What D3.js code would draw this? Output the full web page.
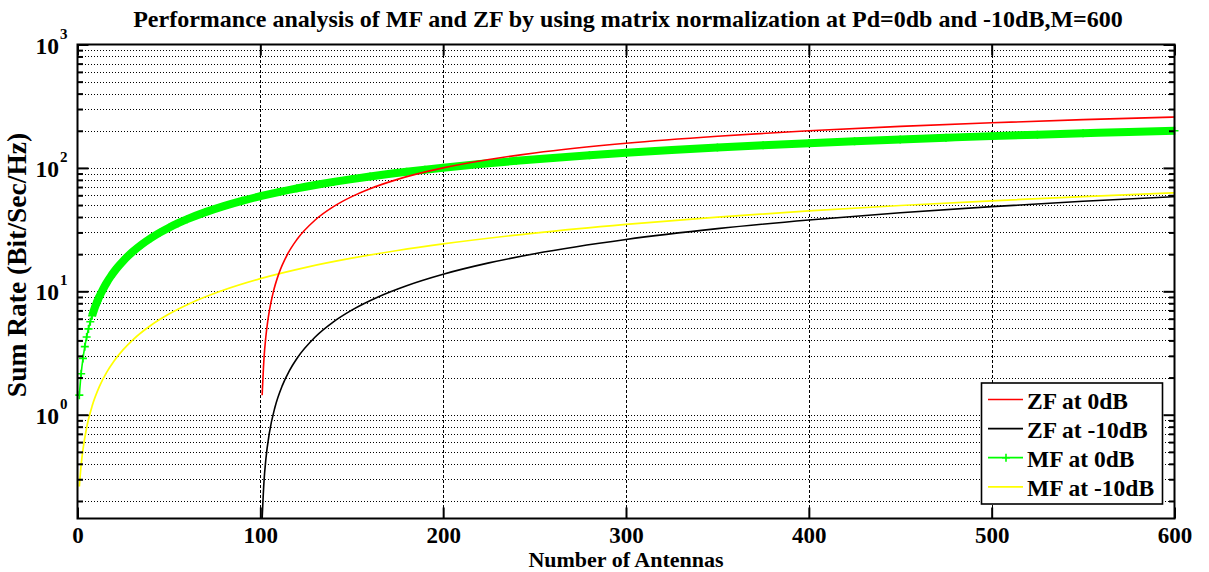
<!DOCTYPE html>
<html>
<head>
<meta charset="utf-8">
<script src="https://cdn.jsdelivr.net/npm/d3@7"></script>
<style>
  html, body { margin: 0; padding: 0; background: #fff; }
  svg { display: block; }
  text { font-family: "Liberation Serif", "Times New Roman", serif; font-weight: bold; fill: #000; }
</style>
</head>
<body>
<svg id="chart" width="1209" height="572"></svg>
<script>
// ---------------- data ----------------
const chartTitle = "Performance analysis of MF and ZF by using matrix normalization at Pd=0db and -10dB,M=600";
const xLabel = "Number of Antennas";
const yLabel = "Sum Rate (Bit/Sec/Hz)";
const xTicks = [0, 100, 200, 300, 400, 500, 600];
const yMajorExps = [0, 1, 2, 3];
const yMinorMantissas = [2, 3, 4, 5, 6, 7, 8, 9];
const yDecadeBases = [0.1, 1, 10, 100];

// MF at 0dB (green, '+' markers)
const mfN = [1,2,3,4,5,6,7,8,9,10,11,12,14,16,18,20,22,25,28,30,35,40,45,50,55,60,70,80,90,100,
             110,120,130,140,150,160,170,180,190,200,220,240,260,280,300,325,350,375,400,425,450,475,500,525,550,575,600];
const mf0dB = [1.44,2.15,2.86,3.56,4.26,4.96,5.66,6.35,7.04,7.72,8.41,9.09,10.43,11.77,13.09,14.40,15.70,17.63,19.53,20.79,
               23.88,26.90,29.87,32.77,35.61,38.41,43.83,49.06,54.10,58.98,63.69,68.26,72.68,76.98,81.15,85.20,89.14,92.98,96.72,100.36,
               107.38,114.08,120.48,126.60,132.48,139.51,146.21,152.61,158.74,164.62,170.27,175.70,180.94,186.00,190.88,195.61,200.18];

// MF at -10dB (yellow)
const mfLowN = [1,2,3,5,8,12,16,20,25,30,40,50,60,70,80,100,125,150,175,200,250,300,350,400,450,500,550,600];
const mf10dB = [0.262,0.393,0.524,0.785,1.176,1.695,2.213,2.728,3.370,4.010,5.280,6.539,7.786,9.024,10.25,12.67,15.65,18.56,21.41,24.21,
                29.65,34.90,39.95,44.84,49.57,54.15,58.58,62.89];

// ZF at 0dB (red)
const zfN = [101,102,103,104,105,107,110,115,120,130,140,150,160,175,200,225,250,300,350,400,450,500,550,600];
const zf0dB = [1.44,2.86,4.26,5.66,7.04,9.76,13.75,20.16,26.30,37.85,48.54,58.50,67.81,80.74,100.0,116.99,132.19,158.50,180.74,200.0,
               216.99,232.19,245.94,258.50];

// ZF at -10dB (black)
const zfLowN = [101,102,103,105,108,112,116,120,130,140,150,165,180,200,225,250,300,350,400,450,500,550,600];
const zf10dB = [0.1442,0.288,0.432,0.720,1.150,1.721,2.290,2.857,4.264,5.658,7.039,9.085,11.10,13.75,16.99,20.16,26.30,32.19,37.85,
                43.30,48.54,53.61,58.50];

const legendLabels = ["ZF at 0dB", "ZF at -10dB", "MF at 0dB", "MF at -10dB"];
const legendColors = ["#ff0000", "#000000", "#00ff00", "#ffff00"];

// ---------------- layout ----------------
const L = 77.5, R = 1174.5, T = 44.5, B = 518.5;
const svg = d3.select("#chart");
const x = d3.scaleLinear().domain([0, 600]).range([L, R]);
const y = d3.scaleLog().domain([0.1442, 1000]).range([B, T]);

const yMinorVals = [];
yDecadeBases.forEach(b => yMinorMantissas.forEach(m => {
  const v = b * m; if (v >= y.domain()[0] && v <= 1000) yMinorVals.push(v);
}));
const yMajorVals = yMajorExps.map(e => Math.pow(10, e));

// ---------------- grid ----------------
const grid = svg.append("g").attr("shape-rendering", "crispEdges");
grid.selectAll("line.hg").data(yMinorVals.concat(yMajorVals.filter(v => v < 1000)))
  .enter().append("line")
  .attr("x1", L + 1).attr("x2", R)
  .attr("y1", d => Math.round(y(d)) + 0.5).attr("y2", d => Math.round(y(d)) + 0.5)
  .attr("stroke", "#000").attr("stroke-width", 1).attr("stroke-dasharray", "1,2");
grid.selectAll("line.vg").data(xTicks.filter(v => v > 0 && v < 600))
  .enter().append("line")
  .attr("x1", d => Math.round(x(d)) + 0.5).attr("x2", d => Math.round(x(d)) + 0.5)
  .attr("y1", T).attr("y2", B)
  .attr("stroke", "#000").attr("stroke-width", 1).attr("stroke-dasharray", "3,2");

// ---------------- curves ----------------
const line = d3.line().x(d => x(d[0])).y(d => y(d[1])).curve(d3.curveMonotoneX);
const zip = (a, b) => a.map((v, i) => [v, b[i]]);
const curves = svg.append("g");

const mfPts = zip(mfN, mf0dB);
// dense '+' markers merge into a thick band in the reference
curves.append("path").attr("d", line(mfPts.filter(d => d[0] >= 8)))
  .attr("fill", "none").attr("stroke", "#00ff00").attr("stroke-width", 8);
curves.append("path").attr("d", line(mfPts))
  .attr("fill", "none").attr("stroke", "#00ff00").attr("stroke-width", 1.6);
curves.selectAll("path.mk").data(mfPts).enter().append("path")
  .attr("d", d => { const cx = x(d[0]), cy = y(d[1]);
    return `M${cx-4},${cy}H${cx+4}M${cx},${cy-4}V${cy+4}`; })
  .attr("stroke", "#00ff00").attr("stroke-width", 1.6).attr("fill", "none");

curves.append("path").attr("d", line(zip(mfLowN, mf10dB)))
  .attr("fill", "none").attr("stroke", "#ffff00").attr("stroke-width", 1.7);
curves.append("path").attr("d", line(zip(zfLowN, zf10dB)))
  .attr("fill", "none").attr("stroke", "#000").attr("stroke-width", 1.6);
curves.append("path").attr("d", line(zip(zfN, zf0dB)))
  .attr("fill", "none").attr("stroke", "#ff0000").attr("stroke-width", 1.6);

// ---------------- axes ----------------
const fs = 23.5;
const xAxis = svg.append("g").attr("transform", `translate(0,${B})`)
  .call(d3.axisBottom(x).tickValues(xTicks).tickSizeInner(-11).tickSizeOuter(0).tickPadding(8));
xAxis.select(".domain").remove();
xAxis.selectAll("line").attr("stroke", "#000").attr("stroke-width", 2);
xAxis.selectAll("text").attr("font-size", 23).attr("font-family", "Liberation Serif").attr("font-weight", "bold").attr("fill", "#000");

const xTop = svg.append("g").attr("transform", `translate(0,${T})`)
  .call(d3.axisTop(x).tickValues(xTicks).tickSizeInner(-11).tickSizeOuter(0).tickFormat(""));
xTop.select(".domain").remove();
xTop.selectAll("line").attr("stroke", "#000").attr("stroke-width", 2);

function yAx(gen, tx, vals, size) {
  const g = svg.append("g").attr("transform", `translate(${tx},0)`)
    .call(gen(y).tickValues(vals).tickSizeInner(size).tickSizeOuter(0).tickFormat(""));
  g.select(".domain").remove();
  g.selectAll("line").attr("stroke", "#000").attr("stroke-width", 2);
  return g;
}
yAx(d3.axisLeft, L, yMinorVals, -5.5);
yAx(d3.axisLeft, L, yMajorVals, -11);
yAx(d3.axisRight, R, yMinorVals, -5.5);
yAx(d3.axisRight, R, yMajorVals, -11);

// y tick labels 10^n
const yl = svg.append("g");
yMajorExps.forEach(e => {
  yl.append("text").attr("x", 59).attr("y", y(Math.pow(10, e)) + 9)
    .attr("text-anchor", "end").attr("font-size", fs).text("10");
  yl.append("text").attr("x", 60).attr("y", y(Math.pow(10, e)) - 6)
    .attr("font-size", 15).text(String(e));
});

// box
svg.append("rect").attr("x", L).attr("y", T).attr("width", R - L).attr("height", B - T)
  .attr("fill", "none").attr("stroke", "#000").attr("stroke-width", 2);

// ---------------- titles ----------------
svg.append("text").attr("x", 628).attr("y", 27).attr("text-anchor", "middle")
  .attr("font-size", 24).text(chartTitle);
svg.append("text").attr("x", (L + R) / 2).attr("y", 566.5).attr("text-anchor", "middle")
  .attr("font-size", 22).text(xLabel);
svg.append("text").attr("transform", "translate(26,265) rotate(-90)").attr("text-anchor", "middle")
  .attr("font-size", 27.5).text(yLabel);

// ---------------- legend ----------------
const lg = svg.append("g");
lg.append("rect").attr("x", 981.5).attr("y", 383).attr("width", 181).attr("height", 121)
  .attr("fill", "#fff").attr("stroke", "#000").attr("stroke-width", 1.6);
legendLabels.forEach((lab, i) => {
  const ly = 399.5 + i * 29.1;
  lg.append("line").attr("x1", 988).attr("x2", 1023).attr("y1", ly).attr("y2", ly)
    .attr("stroke", legendColors[i]).attr("stroke-width", 1.7);
  if (i === 2) {
    lg.append("path").attr("d", `M1002,${ly}H1010M1006,${ly-4}V${ly+4}`)
      .attr("stroke", legendColors[i]).attr("stroke-width", 1.6);
  }
  lg.append("text").attr("x", 1027).attr("y", ly + 9).attr("font-size", fs).text(lab);
});
</script>
</body>
</html>
